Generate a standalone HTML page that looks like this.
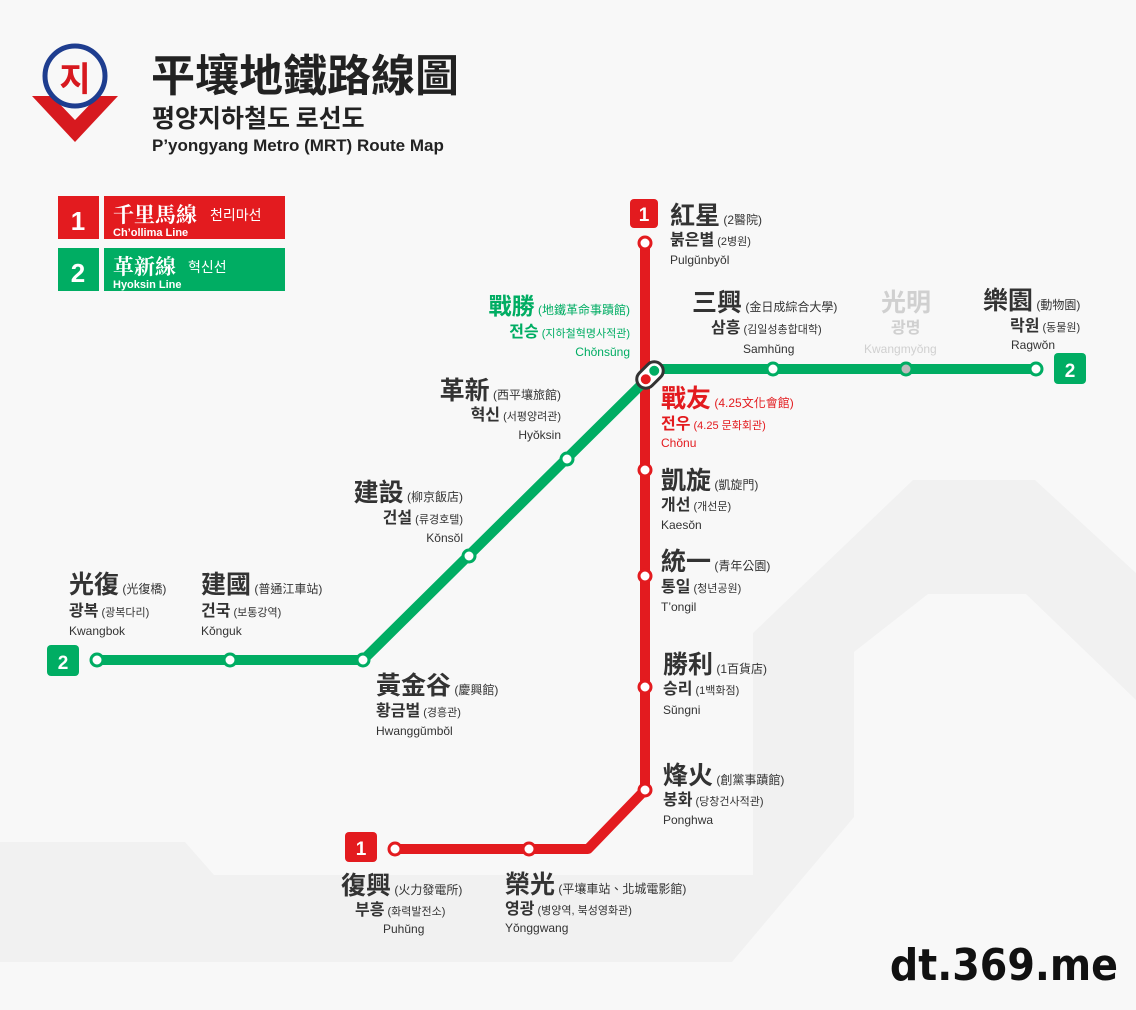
<!DOCTYPE html>
<html><head><meta charset="utf-8"><style>
body{margin:0;width:1136px;height:1005px;overflow:hidden;background:#f8f8f8;font-family:"Liberation Sans","Noto Sans CJK KR",sans-serif}
</style></head><body>
<svg width="1136" height="1005" viewBox="0 0 1136 1005" xmlns="http://www.w3.org/2000/svg" font-family="'Liberation Sans','Noto Sans CJK TC','Noto Sans CJK KR',sans-serif">
<rect width="1136" height="1005" fill="#f8f8f8"/>
<!-- background shapes -->
<polygon points="0,842 185,842 214,875 753,875 753,633 913,480 1035,480 1136,573 1136,700 1026,594 928,594 854,652 854,817 732,962 0,962" fill="#f1f1f1"/>
<!-- logo -->
<polygon points="32,96 118,96 75,142" fill="#d7191f"/>
<polygon points="52,96 98,96 75,120" fill="#f8f8f8"/>
<circle cx="75" cy="76" r="30" fill="#f8f8f8" stroke="#1e3d8f" stroke-width="5"/>
<text x="75" y="91" text-anchor="middle" font-size="34" font-weight="bold" fill="#d7191f" font-family="'Noto Sans CJK KR',sans-serif">지</text>
<!-- title -->
<text x="151" y="91" font-size="44" font-weight="bold" fill="#222" font-family="'Noto Sans CJK TC',sans-serif">平壤地鐵路線圖</text>
<text x="152" y="127" font-size="25" font-weight="bold" fill="#222" font-family="'Noto Sans CJK KR',sans-serif">평양지하철도 로선도</text>
<text x="152" y="151" font-size="17" font-weight="bold" fill="#222">P’yongyang Metro (MRT) Route Map</text>
<!-- legend -->
<rect x="58" y="196" width="41" height="43" fill="#e31b1f"/>
<text x="78" y="230" text-anchor="middle" font-size="26" font-weight="bold" fill="#fff">1</text>
<rect x="104" y="196" width="181" height="43" fill="#e31b1f"/>
<text x="113" y="222" font-size="21" font-weight="bold" fill="#fff" font-family="'Noto Serif CJK SC',serif">千里馬線</text>
<text x="210" y="220" font-size="14" fill="#fff" font-family="'Noto Sans CJK KR',sans-serif">천리마선</text>
<text x="113" y="236" font-size="11" font-weight="bold" fill="#fff">Ch’ollima Line</text>
<rect x="58" y="248" width="41" height="43" fill="#00ad63"/>
<text x="78" y="282" text-anchor="middle" font-size="26" font-weight="bold" fill="#fff">2</text>
<rect x="104" y="248" width="181" height="43" fill="#00ad63"/>
<text x="113" y="274" font-size="21" font-weight="bold" fill="#fff" font-family="'Noto Serif CJK SC',serif">革新線</text>
<text x="188" y="272" font-size="14" fill="#fff" font-family="'Noto Sans CJK KR',sans-serif">혁신선</text>
<text x="113" y="288" font-size="11" font-weight="bold" fill="#fff">Hyoksin Line</text>
<!-- red line -->
<polyline points="645,243 645,790 588,849 395,849" fill="none" stroke="#e31b1f" stroke-width="10" stroke-linejoin="round"/>
<!-- green line -->
<polyline points="1036,369 655,369" fill="none" stroke="#00ad63" stroke-width="10"/>
<polyline points="648,378 363,660 97,660" fill="none" stroke="#00ad63" stroke-width="10" stroke-linejoin="round"/>
<g fill="#fff" stroke-width="3">
<circle cx="645" cy="243" r="6" stroke="#e31b1f"/>
<circle cx="645" cy="470" r="6" stroke="#e31b1f"/>
<circle cx="645" cy="576" r="6" stroke="#e31b1f"/>
<circle cx="645" cy="687" r="6" stroke="#e31b1f"/>
<circle cx="645" cy="790" r="6" stroke="#e31b1f"/>
<circle cx="529" cy="849" r="6" stroke="#e31b1f"/>
<circle cx="395" cy="849" r="6" stroke="#e31b1f"/>
<circle cx="773" cy="369" r="6" stroke="#00ad63"/>
<circle cx="906" cy="369" r="6" stroke="#00ad63" fill="#bbb"/>
<circle cx="1036" cy="369" r="6" stroke="#00ad63"/>
<circle cx="567" cy="459" r="6" stroke="#00ad63"/>
<circle cx="469" cy="556" r="6" stroke="#00ad63"/>
<circle cx="363" cy="660" r="6" stroke="#00ad63"/>
<circle cx="230" cy="660" r="6" stroke="#00ad63"/>
<circle cx="97" cy="660" r="6" stroke="#00ad63"/>
</g>
<!-- interchange -->
<g transform="translate(650,375) rotate(-45)">
<rect x="-15" y="-9" width="30" height="18" rx="9" fill="#fff" stroke="#333" stroke-width="3"/>
<circle cx="-6" cy="0" r="5" fill="#e31b1f"/>
<circle cx="6" cy="0" r="5" fill="#00ad63"/>
</g>
<!-- badges -->
<rect x="630" y="199" width="28" height="29" rx="4" fill="#e31b1f"/><text x="644" y="221" text-anchor="middle" font-size="19" font-weight="bold" fill="#fff">1</text>
<rect x="345" y="832" width="32" height="30" rx="4" fill="#e31b1f"/><text x="361" y="855" text-anchor="middle" font-size="19" font-weight="bold" fill="#fff">1</text>
<rect x="1054" y="353" width="32" height="31" rx="4" fill="#00ad63"/><text x="1070" y="377" text-anchor="middle" font-size="19" font-weight="bold" fill="#fff">2</text>
<rect x="47" y="645" width="32" height="31" rx="4" fill="#00ad63"/><text x="63" y="669" text-anchor="middle" font-size="19" font-weight="bold" fill="#fff">2</text>
<!-- labels -->
<g font-weight="bold" fill="#333">
<text x="670" y="224" font-size="25">紅星<tspan font-size="12" font-weight="normal"> (2醫院)</tspan></text>
<text x="670" y="245" font-size="16">붉은별<tspan font-size="11" font-weight="normal"> (2병원)</tspan></text>
<text x="670" y="264" font-size="12" font-weight="normal">Pulgŭnbyŏl</text>

<g fill="#00ad63">
<text x="630" y="314" font-size="23" text-anchor="end" fill="#00ad63"><tspan>戰勝</tspan><tspan font-size="12" font-weight="normal"> (地鐵革命事蹟館)</tspan></text>
<text x="630" y="337" font-size="16" text-anchor="end"><tspan>전승</tspan><tspan font-size="11" font-weight="normal"> (지하철혁명사적관)</tspan></text>
<text x="630" y="356" font-size="12" font-weight="normal" text-anchor="end">Chŏnsŭng</text>
</g>
<text x="692" y="311" font-size="25">三興<tspan font-size="12" font-weight="normal"> (金日成綜合大學)</tspan></text>
<text x="711" y="333" font-size="16">삼흥<tspan font-size="11" font-weight="normal"> (김일성총합대학)</tspan></text>
<text x="743" y="353" font-size="12" font-weight="normal">Samhŭng</text>
<g fill="#d0d0d0">
<text x="881" y="311" font-size="25">光明</text>
<text x="891" y="333" font-size="16">광명</text>
<text x="864" y="353" font-size="12" font-weight="normal">Kwangmyŏng</text>
</g>
<text x="983" y="309" font-size="25">樂園<tspan font-size="12" font-weight="normal"> (動物園)</tspan></text>
<text x="1010" y="331" font-size="16">락원<tspan font-size="11" font-weight="normal"> (동물원)</tspan></text>
<text x="1011" y="349" font-size="12" font-weight="normal">Ragwŏn</text>

<g fill="#e31b1f">
<text x="661" y="407" font-size="25">戰友<tspan font-size="12" font-weight="normal"> (4.25文化會館)</tspan></text>
<text x="661" y="429" font-size="16">전우<tspan font-size="11" font-weight="normal"> (4.25 문화회관)</tspan></text>
<text x="661" y="447" font-size="12" font-weight="normal">Chŏnu</text>
</g>
<text x="561" y="399" font-size="25" text-anchor="end">革新<tspan font-size="12" font-weight="normal"> (西平壤旅館)</tspan></text>
<text x="561" y="420" font-size="16" text-anchor="end">혁신<tspan font-size="11" font-weight="normal"> (서평양려관)</tspan></text>
<text x="561" y="439" font-size="12" font-weight="normal" text-anchor="end">Hyŏksin</text>

<text x="661" y="489" font-size="25">凱旋<tspan font-size="12" font-weight="normal"> (凱旋門)</tspan></text>
<text x="661" y="510" font-size="16">개선<tspan font-size="11" font-weight="normal"> (개선문)</tspan></text>
<text x="661" y="529" font-size="12" font-weight="normal">Kaesŏn</text>

<text x="463" y="501" font-size="25" text-anchor="end">建設<tspan font-size="12" font-weight="normal"> (柳京飯店)</tspan></text>
<text x="463" y="523" font-size="16" text-anchor="end">건설<tspan font-size="11" font-weight="normal"> (류경호텔)</tspan></text>
<text x="463" y="542" font-size="12" font-weight="normal" text-anchor="end">Kŏnsŏl</text>

<text x="661" y="570" font-size="25">統一<tspan font-size="12" font-weight="normal"> (青年公園)</tspan></text>
<text x="661" y="592" font-size="16">통일<tspan font-size="11" font-weight="normal"> (청년공원)</tspan></text>
<text x="661" y="611" font-size="12" font-weight="normal">T’ongil</text>

<text x="69" y="593" font-size="25">光復<tspan font-size="12" font-weight="normal"> (光復橋)</tspan></text>
<text x="69" y="616" font-size="16">광복<tspan font-size="11" font-weight="normal"> (광복다리)</tspan></text>
<text x="69" y="635" font-size="12" font-weight="normal">Kwangbok</text>
<text x="201" y="593" font-size="25">建國<tspan font-size="12" font-weight="normal"> (普通江車站)</tspan></text>
<text x="201" y="616" font-size="16">건국<tspan font-size="11" font-weight="normal"> (보통강역)</tspan></text>
<text x="201" y="635" font-size="12" font-weight="normal">Kŏnguk</text>

<text x="663" y="673" font-size="25">勝利<tspan font-size="12" font-weight="normal"> (1百貨店)</tspan></text>
<text x="663" y="694" font-size="16">승리<tspan font-size="11" font-weight="normal"> (1백화점)</tspan></text>
<text x="663" y="714" font-size="12" font-weight="normal">Sŭngni</text>

<text x="376" y="694" font-size="25">黃金谷<tspan font-size="12" font-weight="normal"> (慶興館)</tspan></text>
<text x="376" y="716" font-size="16">황금벌<tspan font-size="11" font-weight="normal"> (경흥관)</tspan></text>
<text x="376" y="735" font-size="12" font-weight="normal">Hwanggŭmbŏl</text>

<text x="663" y="784" font-size="25">烽火<tspan font-size="12" font-weight="normal"> (創黨事蹟館)</tspan></text>
<text x="663" y="805" font-size="16">봉화<tspan font-size="11" font-weight="normal"> (당창건사적관)</tspan></text>
<text x="663" y="824" font-size="12" font-weight="normal">Ponghwa</text>

<text x="341" y="894" font-size="25">復興<tspan font-size="12" font-weight="normal"> (火力發電所)</tspan></text>
<text x="355" y="915" font-size="16">부흥<tspan font-size="11" font-weight="normal"> (화력발전소)</tspan></text>
<text x="383" y="933" font-size="12" font-weight="normal">Puhŭng</text>
<text x="505" y="893" font-size="25">榮光<tspan font-size="12" font-weight="normal"> (平壤車站、北城電影館)</tspan></text>
<text x="505" y="914" font-size="16">영광<tspan font-size="11" font-weight="normal"> (병양역, 북성영화관)</tspan></text>
<text x="505" y="932" font-size="12" font-weight="normal">Yŏnggwang</text>
</g>
<text x="1118" y="980" text-anchor="end" font-size="44" font-weight="bold" fill="#111" font-family="'DejaVu Sans Condensed','DejaVu Sans',sans-serif">dt.369.me</text>
</svg>
</body></html>
